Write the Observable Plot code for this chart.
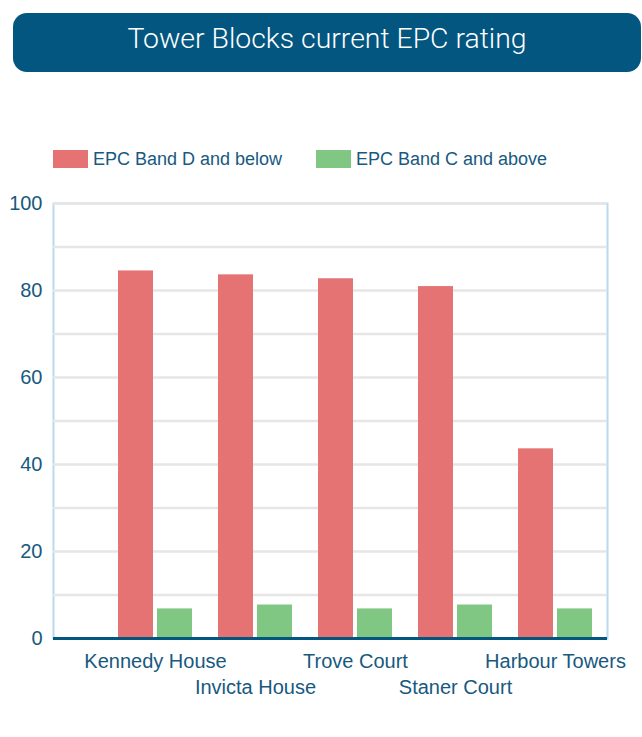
<!DOCTYPE html>
<html><head><meta charset="utf-8">
<script src="https://cdn.jsdelivr.net/npm/d3@7"></script>
<script src="https://cdn.jsdelivr.net/npm/@observablehq/plot@0.6"></script>
<style>
body{margin:0;background:#fff;width:642px;height:737px;position:relative;overflow:hidden;font-family:"Liberation Sans",Arial,sans-serif;}
#title{position:absolute;left:13px;top:13px;width:628px;height:59px;box-sizing:border-box;padding-bottom:9px;background:#03567f;border-radius:14px;color:#fff;font-family:Roboto,sans-serif;font-weight:300;font-size:28.4px;display:flex;align-items:center;justify-content:center;}
#legend{position:absolute;left:53px;top:149px;height:20px;font-size:18px;color:#17597f;}
.item{position:absolute;top:0;display:flex;align-items:center;white-space:nowrap;height:20px;}
.sw{width:35px;height:18px;margin-right:5px;}
#chart{position:absolute;left:0;top:180px;}
</style></head>
<body>
<div id="title">Tower Blocks current EPC rating</div>
<div id="legend"></div>
<div id="chart"></div>
<script>
const buildings = ["Kennedy House","Invicta House","Trove Court","Staner Court","Harbour Towers"];
const bandDBelow = [84.5, 83.6, 82.7, 80.9, 43.6];
const bandCAbove = [6.8, 7.7, 6.8, 7.7, 6.8];
const seriesNames = ["EPC Band D and below", "EPC Band C and above"];
const seriesColors = ["#e57373", "#81c784"];
const yTicks = [0, 20, 40, 60, 80, 100];
const gridTicks = [0, 10, 20, 30, 40, 50, 60, 70, 80, 90, 100];

const textColor = "#17597f";

// legend
const legend = document.getElementById("legend");
const legendX = [0, 263];
seriesNames.forEach((n, i) => {
  const it = document.createElement("div");
  it.className = "item";
  it.style.left = legendX[i] + "px";
  it.innerHTML = `<div class="sw" style="background:${seriesColors[i]}"></div><span>${n}</span>`;
  legend.appendChild(it);
});

const rows = buildings.map((b, i) => ({building: b, d: bandDBelow[i], c: bandCAbove[i]}));

const chart = Plot.plot({
  width: 642,
  height: 557,
  marginTop: 23,
  marginBottom: 99,
  marginLeft: 53,
  marginRight: 35,
  style: {fontSize: "20px", fontFamily: '"Liberation Sans", Arial, sans-serif', color: textColor, background: "transparent"},
  x: {type: "band", domain: buildings, range: [105, 605], padding: 0, label: null},
  y: {domain: [0, 100], label: null},
  marks: [
    Plot.frame({stroke: "#b9d9ec", strokeWidth: 2}),
    Plot.ruleY(gridTicks, {stroke: "#e6e6e6", strokeWidth: 2.5}),
    Plot.barY(rows, {x: "building", y: "d", fill: seriesColors[0], insetLeft: 13, insetRight: 52}),
    Plot.barY(rows, {x: "building", y: "c", fill: seriesColors[1], insetLeft: 52, insetRight: 13}),
    Plot.ruleY([0], {stroke: "#03567f", strokeWidth: 3}),
    Plot.axisY({ticks: yTicks, tickSize: 0, tickPadding: 11, fontSize: 20, fill: textColor, label: null}),
    Plot.axisX({ticks: [buildings[0], buildings[2], buildings[4]], tickSize: 0, tickPadding: 15, fontSize: 20, fill: textColor, label: null}),
    Plot.axisX({ticks: [buildings[1], buildings[3]], tickSize: 0, tickPadding: 41, fontSize: 20, fill: textColor, label: null})
  ]
});
document.getElementById("chart").appendChild(chart);
</script>
</body></html>
